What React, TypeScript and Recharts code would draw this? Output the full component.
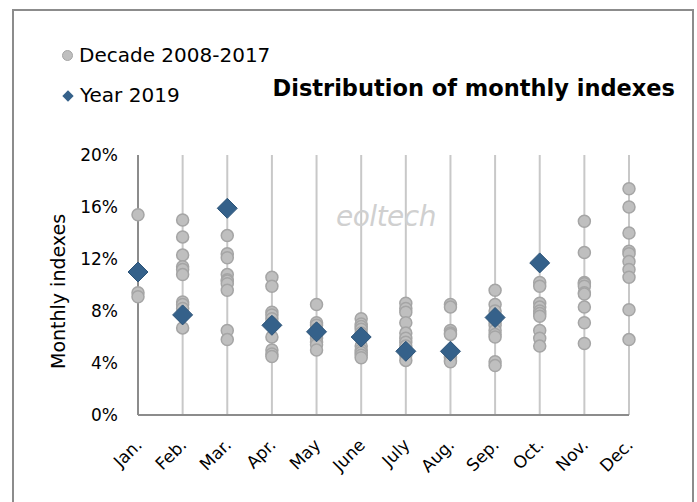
import { ScatterChart, Scatter, XAxis, YAxis, CartesianGrid } from "recharts";

const months = ["Jan.", "Feb.", "Mar.", "Apr.", "May", "June", "July", "Aug.", "Sep.", "Oct.", "Nov.", "Dec."];
const yTicks = [0, 4, 8, 12, 16, 20];

// decade 2008-2017, monthly index in %
const decJan = [15.4, 9.4, 9.1];
const decFeb = [15.0, 13.7, 12.3, 11.4, 11.2, 10.8, 8.7, 8.5, 8.2, 6.7];
const decMar = [13.8, 12.4, 12.1, 10.8, 10.4, 10.3, 10.1, 9.6, 6.5, 5.8];
const decApr = [10.6, 9.9, 7.9, 7.7, 7.4, 7.1, 6.0, 5.0, 4.7, 4.5];
const decMay = [8.5, 7.1, 6.9, 6.6, 6.4, 6.2, 5.9, 5.6, 5.4, 5.0];
const decJun = [7.4, 7.0, 6.8, 6.6, 6.3, 5.3, 5.0, 4.8, 4.6, 4.4];
const decJul = [8.6, 8.2, 7.9, 7.1, 6.3, 5.9, 5.6, 5.3, 4.6, 4.2];
const decAug = [8.5, 8.3, 6.5, 6.3, 6.2, 4.7, 4.5, 4.4, 4.2, 4.1];
const decSep = [9.6, 8.5, 8.0, 7.2, 6.9, 6.5, 6.2, 6.0, 4.1, 3.8];
const decOct = [10.2, 9.9, 8.6, 8.3, 8.0, 7.8, 7.6, 6.5, 5.9, 5.3];
const decNov = [14.9, 12.5, 10.2, 10.1, 9.9, 9.4, 9.3, 8.3, 7.1, 5.5];
const decDec = [17.4, 16.0, 14.0, 12.6, 12.4, 11.8, 11.2, 10.6, 8.1, 5.8];
const decade = [decJan, decFeb, decMar, decApr, decMay, decJun, decJul, decAug, decSep, decOct, decNov, decDec];

const year2019 = [11.0, 7.7, 15.9, 6.9, 6.4, 6.0, 4.9, 4.9, 7.5, 11.7, null, null];

const decadeData = decade.flatMap((vals, i) => vals.map((v) => ({ x: i, y: v })));
const yearData = year2019
  .map((v, i) => ({ x: i, y: v }))
  .filter((d) => d.y !== null);

const FONT = "'DejaVu Sans', sans-serif";
const GREY_DOT = "#bfbfbf";
const BLUE = "#35618a";

const Dot = (p: any) => (
  <circle cx={p.cx} cy={p.cy} r={6} fill={GREY_DOT} stroke="#a5a5a5" strokeWidth={1.5} />
);

const Diamond = (p: any) => (
  <polygon
    points={`${p.cx},${p.cy - 10} ${p.cx + 10},${p.cy} ${p.cx},${p.cy + 10} ${p.cx - 10},${p.cy}`}
    fill={BLUE}
    stroke="#2d5478"
    strokeWidth={1}
  />
);

const MonthTick = ({ x, y, payload }: any) => {
  const ax = x + 5;
  const ay = y + 23;
  return (
    <text x={ax} y={ay} transform={`rotate(-45 ${ax} ${ay})`} textAnchor="end"
          fontFamily={FONT} fontSize={17} fill="#000">
      {months[payload.value]}
    </text>
  );
};

export default function App() {
  return (
    <div style={{ position: "absolute", left: 0, top: 0, width: 697, height: 502, background: "#fff", fontFamily: FONT }}>
      <div style={{ position: "absolute", left: 12, top: 9, width: 682, height: 520,
                    border: "2px solid #8c8c8c", boxSizing: "border-box" }} />
      <ScatterChart width={697} height={502} margin={{ top: 155, right: 68, bottom: 27, left: 78 }}
                    style={{ position: "absolute", left: 0, top: 0 }}>
        <CartesianGrid horizontal={false} stroke="#c8c8c8" strokeWidth={2} />
        <XAxis type="number" dataKey="x" domain={[0, 11]} ticks={months.map((_, i) => i)}
               interval={0} height={60} tickLine={false} axisLine={{ stroke: "#8c8c8c", strokeWidth: 2 }}
               tick={<MonthTick />} />
        <YAxis type="number" dataKey="y" domain={[0, 20]} ticks={yTicks} width={60}
               tickLine={false} tickMargin={14} axisLine={{ stroke: "#8c8c8c", strokeWidth: 2 }}
               tickFormatter={(v) => `${v}%`}
               tick={{ fontFamily: FONT, fontSize: 17, fill: "#000" }}
               label={{ value: "Monthly indexes", angle: -90, position: "insideLeft", dx: -25, dy: 84,
                        style: { fontFamily: FONT, fontSize: 19, fill: "#000" } }} />
        <Scatter data={decadeData} shape={Dot} isAnimationActive={false} />
        <Scatter data={yearData} shape={Diamond} isAnimationActive={false} />
      </ScatterChart>
      <div style={{ position: "absolute", left: 336, top: 200, fontStyle: "italic", fontSize: 28,
                    color: "#d0d0d0", letterSpacing: -0.5 }}>eoltech</div>
      <div style={{ position: "absolute", right: 22, top: 75, fontWeight: "bold", fontSize: 22.5, color: "#000" }}>
        Distribution of monthly indexes
      </div>
      <div style={{ position: "absolute", left: 62, top: 42, fontSize: 20, lineHeight: "27px", color: "#000" }}>
        <div style={{ display: "flex", alignItems: "center" }}>
          <span style={{ display: "inline-block", width: 9, height: 9, borderRadius: "50%", background: GREY_DOT,
                         border: "1px solid #a5a5a5", marginRight: 6 }} />
          Decade 2008-2017
        </div>
        <div style={{ display: "flex", alignItems: "center", marginTop: 13 }}>
          <span style={{ display: "inline-block", width: 8, height: 8, background: BLUE, transform: "rotate(45deg)",
                         marginLeft: 2, marginRight: 8 }} />
          Year 2019
        </div>
      </div>
    </div>
  );
}
